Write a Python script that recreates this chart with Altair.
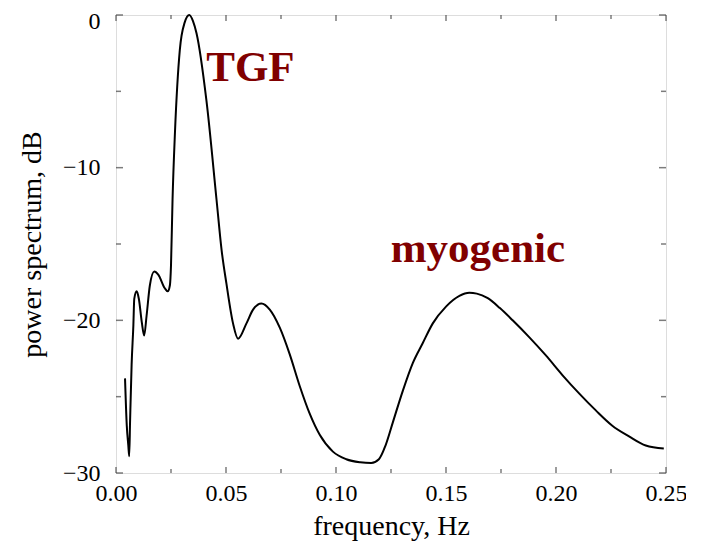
import altair as alt
import pandas as pd

freq = [0.0041, 0.0049, 0.0056, 0.0060, 0.0064, 0.0071, 0.0079, 0.0083, 0.0094, 0.0104,
        0.0117, 0.0128, 0.0139, 0.0154, 0.0174, 0.0192, 0.0222, 0.0235, 0.0245, 0.0250,
        0.0257, 0.0268, 0.0290, 0.0312, 0.0333, 0.0350, 0.0366, 0.0411, 0.0457, 0.0480,
        0.0502, 0.0532, 0.0555, 0.0593, 0.0623, 0.0661, 0.0699, 0.0745, 0.0789, 0.0835,
        0.0880, 0.0926, 0.0986, 0.1047, 0.1110, 0.1160, 0.1195, 0.1225, 0.1258, 0.1304,
        0.1349, 0.1394, 0.1440, 0.1500, 0.1561, 0.1606, 0.1640, 0.1690, 0.1745, 0.1803,
        0.1878, 0.1954, 0.2030, 0.2106, 0.2181, 0.2256, 0.2332, 0.2408, 0.2490]
power = [-23.8, -26.9, -28.2, -28.9, -26.6, -22.9, -20.3, -18.6, -18.1, -18.6,
         -20.1, -21.0, -19.7, -17.7, -16.8, -17.0, -17.9, -18.1, -17.7, -16.4,
         -12.1, -7.7, -2.3, -0.5, 0.0, -0.4, -1.2, -5.6, -12.1, -15.4,
         -17.6, -20.2, -21.2, -20.2, -19.3, -18.9, -19.3, -20.5, -22.2, -24.3,
         -26.1, -27.5, -28.6, -29.1, -29.3, -29.35, -29.1, -28.2, -26.7, -24.6,
         -22.8, -21.5, -20.2, -19.1, -18.4, -18.2, -18.25, -18.55, -19.2, -20.0,
         -21.1, -22.3, -23.6, -24.8, -25.9, -26.9, -27.6, -28.2, -28.4]

x_major = [0.0, 0.05, 0.10, 0.15, 0.20, 0.25]
x_minor = [0.025, 0.075, 0.125, 0.175, 0.225]
y_major = [0, -10, -20, -30]
y_minor = [-5, -15, -25]

labels = ["TGF", "myogenic"]
label_x = [0.0611, 0.1645]
label_y = [-4.3, -16.2]

W, H = 550, 458
FONT = "Liberation Serif"

xs = alt.Scale(domain=[0, 0.25], nice=False, zero=False)
ys = alt.Scale(domain=[-30, 0], nice=False, zero=False)

df = pd.DataFrame({"f": freq, "p": power})

line = alt.Chart(df).mark_line(color="black", strokeWidth=2, interpolate="monotone").encode(
    x=alt.X("f:Q", scale=xs, axis=alt.Axis(
        values=x_major, format=".2f", title="frequency, Hz", ticks=False, tickSize=0,
        domain=False, grid=False, labelFont=FONT, labelFontSize=24, labelColor="black",
        labelPadding=8, titleFont=FONT, titleFontSize=28, titleFontWeight="normal",
        titleColor="black", titlePadding=7, labelFlush=False)),
    y=alt.Y("p:Q", scale=ys, axis=alt.Axis(
        values=y_major, format="d", title="power spectrum, dB", ticks=False, tickSize=0,
        domain=False, grid=False, labelFont=FONT, labelFontSize=24, labelColor="black",
        labelPadding=16, titleFont=FONT, titleFontSize=28, titleFontWeight="normal",
        titleColor="black", titlePadding=16, labelFlush=False,
        labelOffset={"condition": {"test": "datum.value == 0", "value": 6}, "value": 0})),
)

def xticks(vals, size):
    d = pd.DataFrame({"t": vals})
    bottom = alt.Chart(d).mark_tick(orient="vertical", size=size, thickness=1.5,
                                    color="#444", yOffset=-size / 2).encode(
        x=alt.X("t:Q", scale=xs), y=alt.value(H))
    top = alt.Chart(d).mark_tick(orient="vertical", size=size, thickness=1.5,
                                 color="#444", yOffset=size / 2).encode(
        x=alt.X("t:Q", scale=xs), y=alt.value(0))
    return bottom + top

def yticks(vals, size):
    d = pd.DataFrame({"t": vals})
    left = alt.Chart(d).mark_tick(orient="horizontal", size=size, thickness=1.5,
                                  color="#444", xOffset=size / 2).encode(
        y=alt.Y("t:Q", scale=ys), x=alt.value(0))
    right = alt.Chart(d).mark_tick(orient="horizontal", size=size, thickness=1.5,
                                   color="#444", xOffset=-size / 2).encode(
        y=alt.Y("t:Q", scale=ys), x=alt.value(W))
    return left + right

tdf = pd.DataFrame({"label": labels, "x": label_x, "y": label_y})
text = alt.Chart(tdf).mark_text(font=FONT, fontSize=43, fontWeight="bold",
                                color="#800000", align="center", baseline="alphabetic").encode(
    x=alt.X("x:Q", scale=xs), y=alt.Y("y:Q", scale=ys), text="label:N")

chart = alt.layer(
    line,
    xticks(x_major, 6), xticks(x_minor, 4),
    yticks(y_major, 7), yticks(y_minor, 5),
    text,
).properties(
    width=W, height=H,
    autosize=alt.AutoSizeParams(type="none"),
    padding={"left": 108, "top": 7, "right": 20, "bottom": 70},
).configure_view(stroke="#6a6a6a", strokeWidth=2.5).configure(background="white")

chart.save("out.html", embed_options={"renderer": "svg", "actions": False})
